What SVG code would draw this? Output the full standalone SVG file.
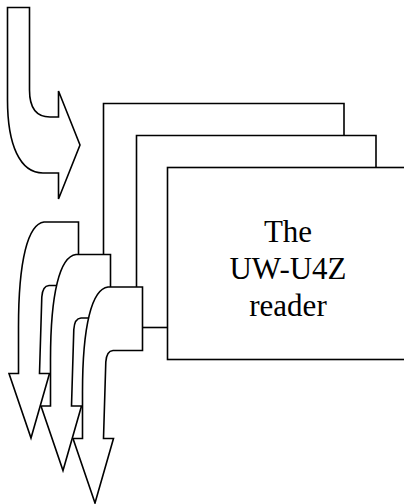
<svg xmlns="http://www.w3.org/2000/svg" xmlns:xlink="http://www.w3.org/1999/xlink" width="404" height="504" viewBox="0 0 404 504">
  <style>
    .sh { fill: #ffffff; stroke: #000000; stroke-width: 1.6; stroke-linejoin: miter; }
    .ln { fill: none; stroke: #000000; stroke-width: 1.6; }
    .lbl { font-family: "Liberation Serif", "Times New Roman", serif; font-size: 31px; fill: #000000; text-anchor: middle; }
  </style>
  <defs>
    <path id="downArrow" d="M108,287 C92,289 82.5,325 82.5,392 V438.5 H73 L95,503 L113.5,438.5 H103.5 L105.8,362 Q106.5,351 113,350.5 H142.5 V287 Z"/>
  </defs>
  <rect width="404" height="504" fill="#ffffff"/>

  <g id="box1">
    <path class="sh" d="M103.5,255 V103.5 H344 V135.5"/>
  </g>
  <g id="box2">
    <path class="sh" d="M136.5,287 V135.5 H376 V167.5"/>
  </g>
  <g id="box3">
    <rect class="sh" x="167.5" y="167.5" width="250" height="192"/>
    <text class="lbl" x="288" y="242">The</text>
    <text class="lbl" x="288" y="279">UW-U4Z</text>
    <text class="lbl" x="288" y="316">reader</text>
  </g>

  <g id="connectors">
    <line class="ln" x1="142.5" y1="327.5" x2="167.5" y2="327.5"/>
  </g>

  <g id="inputArrow">
    <path class="sh" d="M7.5,7.5 H29.5 V90 C29.5,108 36,117 50,117 H58.5 V91 L80,145 L58.5,199 V173 H43 C20,173 7.5,145 7.5,100 Z"/>
  </g>
  <g id="outputArrow1">
    <use xlink:href="#downArrow" href="#downArrow" class="sh" transform="translate(-64,-65)"/>
  </g>
  <g id="outputArrow2">
    <use xlink:href="#downArrow" href="#downArrow" class="sh" transform="translate(-32,-32.5)"/>
  </g>
  <g id="outputArrow3">
    <use xlink:href="#downArrow" href="#downArrow" class="sh"/>
  </g>
</svg>
